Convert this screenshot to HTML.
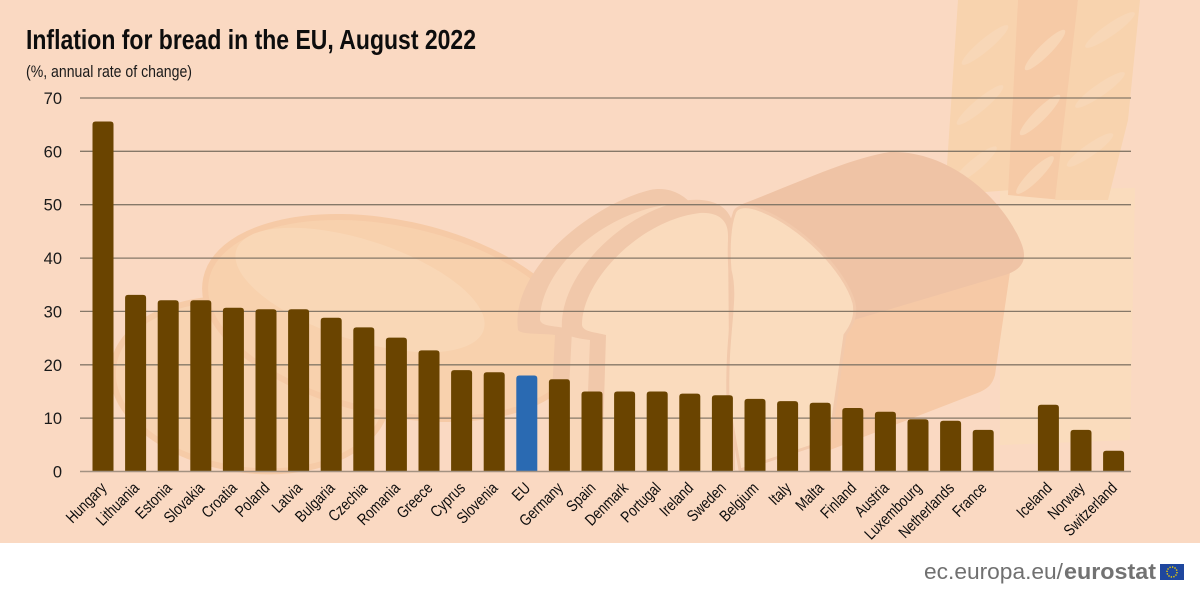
<!DOCTYPE html>
<html>
<head>
<meta charset="utf-8">
<style>
  html, body { margin:0; padding:0; width:1200px; height:600px; overflow:hidden; background:#ffffff; }
  svg { display:block; }
  .yl { font-family:"Liberation Sans", sans-serif; font-size:16.5px; fill:#1a1a1a; }
  .xl { font-family:"Liberation Sans", sans-serif; font-size:16px; fill:#0d0d0d; }
</style>
</head>
<body>
<svg width="1200" height="600" viewBox="0 0 1200 600" xmlns="http://www.w3.org/2000/svg">
  <!-- backgrounds -->
  <rect x="0" y="0" width="1200" height="543" fill="#fad9c2"/>
  <rect x="0" y="543" width="1200" height="57" fill="#ffffff"/>

  <!-- decorative bread illustration -->
  <g>
    <path d="M1000 190 L1135 188 L1130 440 L1000 445 Z" fill="#fadcbd"/>
    <path d="M958 0 L1018 0 L1012 190 L945 195 Z" fill="#f8d3ae"/>
    <path d="M1018 0 L1078 0 L1062 200 L1008 195 Z" fill="#f6caa6"/>
    <path d="M1078 0 L1140 0 L1128 120 L1108 200 L1055 200 Z" fill="#f8d3ae"/>
    <g fill="#f9d9ba" opacity="0.8">
      <ellipse cx="985" cy="45" rx="30" ry="6" transform="rotate(-40 985 45)"/>
      <ellipse cx="980" cy="105" rx="30" ry="6" transform="rotate(-40 980 105)"/>
      <ellipse cx="975" cy="165" rx="28" ry="6" transform="rotate(-40 975 165)"/>
      <ellipse cx="1045" cy="50" rx="28" ry="6" transform="rotate(-45 1045 50)"/>
      <ellipse cx="1040" cy="115" rx="28" ry="6" transform="rotate(-45 1040 115)"/>
      <ellipse cx="1035" cy="175" rx="26" ry="6" transform="rotate(-45 1035 175)"/>
      <ellipse cx="1110" cy="30" rx="30" ry="6" transform="rotate(-35 1110 30)"/>
      <ellipse cx="1100" cy="90" rx="30" ry="6" transform="rotate(-35 1100 90)"/>
      <ellipse cx="1090" cy="150" rx="28" ry="6" transform="rotate(-35 1090 150)"/>
    </g>
    <!-- left rolls -->
    <ellipse cx="250" cy="385" rx="138" ry="85" transform="rotate(8 250 385)" fill="#f8d3b1" stroke="#f6cba7" stroke-width="6"/>
    <ellipse cx="392" cy="318" rx="190" ry="95" transform="rotate(12 392 318)" fill="#f8d1ad" stroke="#f6caa6" stroke-width="6"/>
    <ellipse cx="360" cy="290" rx="130" ry="50" transform="rotate(18 360 290)" fill="#f9d7b6"/>
    <!-- loaf body -->
    <path d="M847 322 L1010 272 L995 375 C992 385 988 388 980 392 L830 450 L822 460 L838 370 Z" fill="#f6c9a6"/>
    <!-- loaf crust top -->
    <path d="M740 205 C800 182 850 158 890 152 C950 150 1005 200 1022 245 C1028 262 1020 270 1005 275 L847 322 C840 290 810 250 760 215 Z" fill="#efc3a5"/>
    <!-- back slice -->
    <path d="M518 330 C510 270 590 205 650 190 C670 186 685 195 695 208 L700 470 L548 470 L555 335 C540 333 522 335 518 330 Z" fill="#f1c8aa"/>
    <path d="M540 320 C540 270 600 215 665 205 C690 202 705 210 710 230 L712 470 L565 470 L572 330 C560 325 542 328 540 320 Z" fill="#f9d7ba"/>
    <!-- middle slice -->
    <path d="M562 330 C558 275 625 208 690 200 C715 198 730 208 733 225 L735 470 L585 470 L590 340 C575 338 565 336 562 330 Z" fill="#f1c8aa"/>
    <path d="M582 325 C582 280 640 220 700 213 C718 212 728 220 728 235 L730 470 L602 470 L606 335 C595 332 583 332 582 325 Z" fill="#fadbbd"/>
    <!-- front right slice -->
    <path d="M734 214 C736 205 748 205 760 210 C800 225 845 270 854 303 C857 318 850 328 845 335 L830 440 L740 470 L728 400 C726 330 738 300 730 270 C728 245 730 225 734 214 Z" fill="#fadcbe" stroke="#f2c9ab" stroke-width="3"/>
  </g>

  <!-- gridlines -->
  <g stroke="#857868" stroke-width="1.3">
    <line x1="80" y1="98" x2="1131" y2="98"/>
    <line x1="80" y1="151.3" x2="1131" y2="151.3"/>
    <line x1="80" y1="204.7" x2="1131" y2="204.7"/>
    <line x1="80" y1="258.1" x2="1131" y2="258.1"/>
    <line x1="80" y1="311.4" x2="1131" y2="311.4"/>
    <line x1="80" y1="364.8" x2="1131" y2="364.8"/>
    <line x1="80" y1="418.1" x2="1131" y2="418.1"/>
  </g>

  <!-- y labels -->
  <g class="yl" text-anchor="end">
    <text x="62" y="104">70</text>
    <text x="62" y="157.3">60</text>
    <text x="62" y="210.7">50</text>
    <text x="62" y="264.1">40</text>
    <text x="62" y="317.4">30</text>
    <text x="62" y="370.8">20</text>
    <text x="62" y="424.1">10</text>
    <text x="62" y="477.5">0</text>
  </g>

  <!-- bars -->
  <g fill="#6a4400">
    <path d="M92.5 471.5V124.5q0-3 3-3h15q3 0 3 3V471.5z"/>
    <path d="M125.1 471.5V297.9q0-3 3-3h15q3 0 3 3V471.5z"/>
    <path d="M157.7 471.5V303.2q0-3 3-3h15q3 0 3 3V471.5z"/>
    <path d="M190.3 471.5V303.2q0-3 3-3h15q3 0 3 3V471.5z"/>
    <path d="M222.9 471.5V310.7q0-3 3-3h15q3 0 3 3V471.5z"/>
    <path d="M255.5 471.5V312.3q0-3 3-3h15q3 0 3 3V471.5z"/>
    <path d="M288.1 471.5V312.3q0-3 3-3h15q3 0 3 3V471.5z"/>
    <path d="M320.7 471.5V320.8q0-3 3-3h15q3 0 3 3V471.5z"/>
    <path d="M353.3 471.5V330.4q0-3 3-3h15q3 0 3 3V471.5z"/>
    <path d="M385.9 471.5V340.6q0-3 3-3h15q3 0 3 3V471.5z"/>
    <path d="M418.5 471.5V353.4q0-3 3-3h15q3 0 3 3V471.5z"/>
    <path d="M451.1 471.5V373.1q0-3 3-3h15q3 0 3 3V471.5z"/>
    <path d="M483.7 471.5V375.3q0-3 3-3h15q3 0 3 3V471.5z"/>
    <path d="M548.9 471.5V382.2q0-3 3-3h15q3 0 3 3V471.5z"/>
    <path d="M581.5 471.5V394.5q0-3 3-3h15q3 0 3 3V471.5z"/>
    <path d="M614.1 471.5V394.5q0-3 3-3h15q3 0 3 3V471.5z"/>
    <path d="M646.7 471.5V394.5q0-3 3-3h15q3 0 3 3V471.5z"/>
    <path d="M679.3 471.5V396.6q0-3 3-3h15q3 0 3 3V471.5z"/>
    <path d="M711.9 471.5V398.2q0-3 3-3h15q3 0 3 3V471.5z"/>
    <path d="M744.5 471.5V401.9q0-3 3-3h15q3 0 3 3V471.5z"/>
    <path d="M777.1 471.5V404.1q0-3 3-3h15q3 0 3 3V471.5z"/>
    <path d="M809.7 471.5V405.7q0-3 3-3h15q3 0 3 3V471.5z"/>
    <path d="M842.3 471.5V411.0q0-3 3-3h15q3 0 3 3V471.5z"/>
    <path d="M874.9 471.5V414.7q0-3 3-3h15q3 0 3 3V471.5z"/>
    <path d="M907.5 471.5V422.2q0-3 3-3h15q3 0 3 3V471.5z"/>
    <path d="M940.1 471.5V423.8q0-3 3-3h15q3 0 3 3V471.5z"/>
    <path d="M972.7 471.5V432.9q0-3 3-3h15q3 0 3 3V471.5z"/>
    <path d="M1037.9 471.5V407.8q0-3 3-3h15q3 0 3 3V471.5z"/>
    <path d="M1070.5 471.5V432.9q0-3 3-3h15q3 0 3 3V471.5z"/>
    <path d="M1103.1 471.5V453.7q0-3 3-3h15q3 0 3 3V471.5z"/>
  </g>
  <path d="M516.3 471.5V378.5q0-3 3-3h15q3 0 3 3V471.5z" fill="#2a6ab2"/>

  <!-- zero line -->
  <line x1="80" y1="471.5" x2="1131" y2="471.5" stroke="#a39282" stroke-width="1.6"/>

  <!-- x labels -->
  <g class="xl" text-anchor="end">
    <text transform="translate(107.5,489) rotate(-45) scale(0.82,1)">Hungary</text>
    <text transform="translate(140.1,489) rotate(-45) scale(0.82,1)">Lithuania</text>
    <text transform="translate(172.7,489) rotate(-45) scale(0.82,1)">Estonia</text>
    <text transform="translate(205.3,489) rotate(-45) scale(0.82,1)">Slovakia</text>
    <text transform="translate(237.9,489) rotate(-45) scale(0.82,1)">Croatia</text>
    <text transform="translate(270.5,489) rotate(-45) scale(0.82,1)">Poland</text>
    <text transform="translate(303.1,489) rotate(-45) scale(0.82,1)">Latvia</text>
    <text transform="translate(335.7,489) rotate(-45) scale(0.82,1)">Bulgaria</text>
    <text transform="translate(368.3,489) rotate(-45) scale(0.82,1)">Czechia</text>
    <text transform="translate(400.9,489) rotate(-45) scale(0.82,1)">Romania</text>
    <text transform="translate(433.5,489) rotate(-45) scale(0.82,1)">Greece</text>
    <text transform="translate(466.1,489) rotate(-45) scale(0.82,1)">Cyprus</text>
    <text transform="translate(498.7,489) rotate(-45) scale(0.82,1)">Slovenia</text>
    <text transform="translate(531.3,489) rotate(-45) scale(0.82,1)">EU</text>
    <text transform="translate(563.9,489) rotate(-45) scale(0.82,1)">Germany</text>
    <text transform="translate(596.5,489) rotate(-45) scale(0.82,1)">Spain</text>
    <text transform="translate(629.1,489) rotate(-45) scale(0.82,1)">Denmark</text>
    <text transform="translate(661.7,489) rotate(-45) scale(0.82,1)">Portugal</text>
    <text transform="translate(694.3,489) rotate(-45) scale(0.82,1)">Ireland</text>
    <text transform="translate(726.9,489) rotate(-45) scale(0.82,1)">Sweden</text>
    <text transform="translate(759.5,489) rotate(-45) scale(0.82,1)">Belgium</text>
    <text transform="translate(792.1,489) rotate(-45) scale(0.82,1)">Italy</text>
    <text transform="translate(824.7,489) rotate(-45) scale(0.82,1)">Malta</text>
    <text transform="translate(857.3,489) rotate(-45) scale(0.82,1)">Finland</text>
    <text transform="translate(889.9,489) rotate(-45) scale(0.82,1)">Austria</text>
    <text transform="translate(922.5,489) rotate(-45) scale(0.82,1)">Luxembourg</text>
    <text transform="translate(955.1,489) rotate(-45) scale(0.82,1)">Netherlands</text>
    <text transform="translate(987.7,489) rotate(-45) scale(0.82,1)">France</text>
    <text transform="translate(1052.9,489) rotate(-45) scale(0.82,1)">Iceland</text>
    <text transform="translate(1085.5,489) rotate(-45) scale(0.82,1)">Norway</text>
    <text transform="translate(1118.1,489) rotate(-45) scale(0.82,1)">Switzerland</text>
  </g>

  <!-- title & subtitle -->
  <text x="26" y="49" font-family="Liberation Sans, sans-serif" font-weight="bold" font-size="28" fill="#0d0d0d" textLength="450" lengthAdjust="spacingAndGlyphs">Inflation for bread in the EU, August 2022</text>
  <text x="26" y="77" font-family="Liberation Sans, sans-serif" font-size="16.5" fill="#1a1a1a" textLength="166" lengthAdjust="spacingAndGlyphs">(%, annual rate of change)</text>

  <!-- footer -->
  <text x="924" y="579" font-family="Liberation Sans, sans-serif" font-size="22" fill="#707070" textLength="139" lengthAdjust="spacingAndGlyphs">ec.europa.eu/</text>
  <text x="1064" y="579" font-family="Liberation Sans, sans-serif" font-size="22" font-weight="bold" fill="#727272" textLength="92" lengthAdjust="spacingAndGlyphs">eurostat</text>
  <rect x="1160" y="564" width="24" height="16" fill="#1f479e"/>
  <circle cx="1172" cy="572" r="5" fill="none" stroke="#f5d300" stroke-width="1.4" stroke-dasharray="1.3 1.3"/>
</svg>
</body>
</html>
